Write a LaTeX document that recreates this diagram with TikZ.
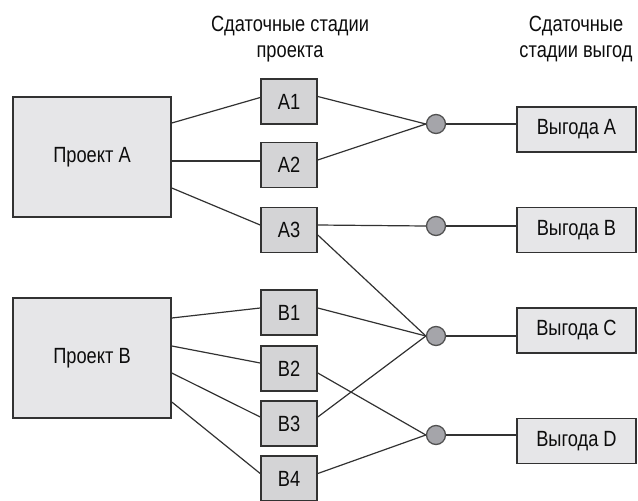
\documentclass[tikz,border=0pt]{standalone}
\usepackage{fontspec}
\setmainfont[FakeStretch=0.83]{Liberation Sans}
\usetikzlibrary{positioning}
\definecolor{boxgray}{RGB}{230,230,232}
\definecolor{stagegray}{RGB}{212,212,214}
\definecolor{dotgray}{RGB}{165,165,170}
\definecolor{linegray}{RGB}{50,50,50}
\tikzset{
	every node/.style={font=\fontsize{22}{26.5}\selectfont, text=black!95}, % narrow sans labels
	project/.style={draw=linegray, line width=1.6pt, fill=boxgray, minimum width=158pt, minimum height=120pt}, % big project boxes
	stage/.style={draw=linegray, line width=1.6pt, fill=stagegray, minimum width=56pt, minimum height=45pt, inner sep=0pt}, % delivery stages
	benefit/.style={draw=linegray, line width=1.6pt, fill=boxgray, minimum width=119pt, minimum height=45pt, inner sep=0pt}, % benefit boxes
	junction/.style={circle, draw=linegray!85, line width=1.3pt, fill=dotgray, minimum size=19pt, inner sep=0pt}, % merge points
	link/.style={draw=linegray, line width=1.2pt}, % connecting lines
	header/.style={align=center}, % column titles
}

\begin{document}
\begin{tikzpicture}[x=1pt, y=-1pt]
	\useasboundingbox (0,0) rectangle (638,501);

	% column titles
	\node[header] (hstage) at (290,39) {Сдаточные стадии\\проекта};
	\node[header] (hbenefit) at (576,39) {Сдаточные\\стадии выгод};

	% projects
	\node[project] (pA) at (92,157) {Проект А};
	\node[project] (pB) at (92,358) {Проект B};

	% stages
	\node[stage] (a1) at (289,101.5) {A1};
	\node[stage] (a2) at (289,165) {A2};
	\node[stage] (a3) at (289,230) {A3};
	\node[stage] (b1) at (289,312.5) {B1};
	\node[stage] (b2) at (289,368.5) {B2};
	\node[stage] (b3) at (289,423.5) {B3};
	\node[stage] (b4) at (289,478.5) {B4};

	% junctions
	\node[junction] (cA) at (436,124) {};
	\node[junction] (cB) at (436,226) {};
	\node[junction] (cC) at (436,336) {};
	\node[junction] (cD) at (436,435) {};

	% benefits
	\node[benefit] (benA) at (576.5,129.5) {Выгода A};
	\node[benefit] (benB) at (576.5,230) {Выгода B};
	\node[benefit] (benC) at (576.5,330.5) {Выгода C};
	\node[benefit] (benD) at (576.5,441) {Выгода D};

	\draw[link]
		([yshift=34pt]pA.east) edge ([yshift=4pt]a1.west)
		([yshift=-4pt]pA.east) edge ([yshift=4pt]a2.west)
		([yshift=-31pt]pA.east) edge ([yshift=5pt]a3.west)
		([yshift=40pt]pB.east) edge ([yshift=4.5pt]b1.west)
		([yshift=12pt]pB.east) edge ([yshift=5.5pt]b2.west)
		([yshift=-15pt]pB.east) edge ([yshift=6.5pt]b3.west)
		([yshift=-44pt]pB.east) edge ([yshift=5pt]b4.west)
		([yshift=5pt]a1.east) edge (cA.west)
		([yshift=5pt]a2.east) edge (cA.west)
		([yshift=5pt]a3.east) edge (cB.west)
		([yshift=-5pt]a3.east) edge (cC.west)
		([yshift=4.5pt]b1.east) edge (cC.west)
		([yshift=6.5pt]b3.east) edge (cC.west)
		([yshift=-4.5pt]b2.east) edge (cD.west)
		([yshift=5pt]b4.east) edge (cD.west)
		(cA.east) edge (cA.east -| benA.west)
		(cB.east) edge (cB.east -| benB.west)
		(cC.east) edge (cC.east -| benC.west)
		(cD.east) edge (cD.east -| benD.west);
\end{tikzpicture}
\end{document}
